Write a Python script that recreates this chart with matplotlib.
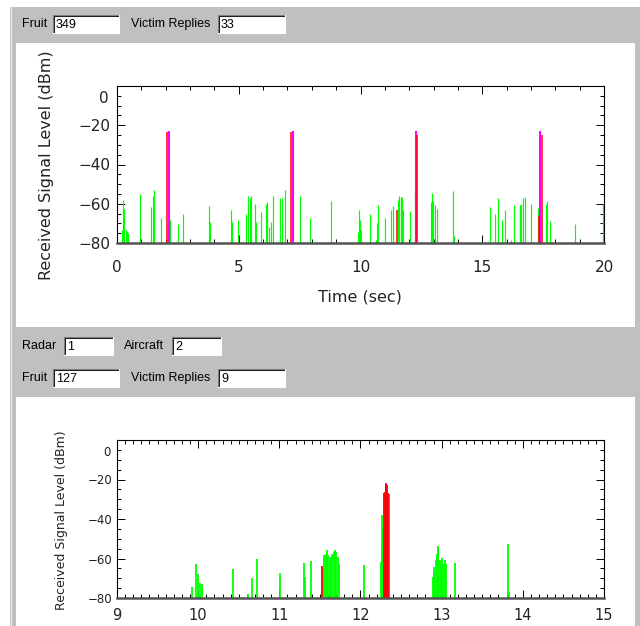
import matplotlib
matplotlib.use("Agg")
import matplotlib.pyplot as plt
from matplotlib.patches import Rectangle
from matplotlib.lines import Line2D
from matplotlib.ticker import MultipleLocator, FuncFormatter

W, H = 640, 626
GREEN, MAGENTA, RED = "#00ff00", "#ff00ff", "#ff0000"

# --- full 20 s scan: green fruit, red/magenta victim replies ---
scan_green_t = [0.20, 0.25, 0.30, 0.35, 0.40, 0.45, 0.93, 0.95, 1.41, 1.46, 1.51,
                1.79, 2.18, 2.49, 2.73, 2.98, 3.78, 3.83, 4.69, 4.74, 4.95, 5.31,
                5.39, 5.46, 5.51, 5.66, 5.71, 5.91, 6.11, 6.16, 6.24, 6.33, 6.39,
                6.71, 6.78, 6.88, 7.53, 7.93, 8.79, 9.91, 9.94, 9.99, 10.04, 10.39,
                10.62, 10.68, 10.73, 11.01, 11.26, 11.35, 11.55, 11.60, 11.65,
                11.70, 11.75, 12.02, 12.23, 12.89, 12.94, 12.99, 13.04, 13.14,
                13.79, 13.84, 15.30, 15.51, 15.66, 15.82, 15.92, 16.20, 16.32,
                16.53, 16.58, 16.69, 16.74, 17.00, 17.29, 17.61, 17.66, 17.77,
                18.79, 19.95]
scan_green_v = [-73.2, -58.3, -62.5, -73.5, -74.0, -75.0, -79.0, -54.9, -61.7, -55.8, -52.9,
                -67.1, -68.1, -70.5, -65.4, -79.3, -61.4, -69.3, -63.0, -69.3, -68.5, -65.4,
                -56.3, -57.0, -55.8, -60.0, -69.3, -64.2, -60.3, -59.3, -71.9, -69.3, -55.8,
                -57.0, -57.0, -53.2, -56.3, -67.1, -58.6, -74.4, -63.0, -68.1, -73.6, -65.4,
                -78.3, -69.8, -60.8, -67.1, -63.0, -61.4, -58.3, -56.3, -56.6,
                -56.6, -63.0, -63.7, -53.6, -59.3, -54.4, -58.6, -60.8, -62.5,
                -53.6, -76.6, -61.7, -65.4, -57.3, -68.5, -63.0, -78.3, -60.8,
                -60.8, -60.3, -57.0, -56.6, -60.0, -62.0, -60.3, -58.6, -68.8,
                -70.5, -60.3]
scan_red_t = [2.07, 7.16, 11.51, 12.33, 17.34, 17.44]
scan_red_v = [-23.5, -23.5, -63.0, -25.0, -66.0, -25.0]
scan_mag_t = [2.12, 7.21, 12.27, 17.37]
scan_mag_v = [-23.0, -23.0, -23.0, -23.0]

# --- zoomed 9-15 s window ---
zoom_green_t = [9.93, 9.97, 10.00, 10.02, 10.05, 10.43, 10.62, 10.66, 10.72, 11.01,
                11.30, 11.32, 11.39,
                11.54, 11.55, 11.56, 11.58, 11.59, 11.60, 11.62, 11.63, 11.64, 11.65,
                11.67, 11.68, 11.69, 11.70, 11.72, 11.73,
                12.04, 12.25, 12.26, 12.27, 12.28,
                12.89, 12.90, 12.91, 12.93, 12.94, 12.95, 12.96, 12.98, 12.99, 13.00,
                13.01, 13.03, 13.04, 13.05,
                13.16, 13.82, 13.83]
zoom_green_v = [-74.4, -62.9, -68.0, -72.2, -73.1, -65.5, -78.1, -69.9, -60.0, -67.3,
                -62.2, -69.3, -61.1,
                -65.8, -58.2, -59.0, -57.5, -55.7, -58.0, -59.0, -65.8, -59.0, -57.5,
                -56.5, -56.0, -55.7, -56.5, -59.0, -62.8,
                -63.5, -61.6, -53.7, -38.0, -45.0,
                -69.4, -67.5, -64.3, -60.6, -57.6, -53.7, -54.4, -60.6, -62.2, -59.7,
                -61.3, -63.0, -60.6, -62.8,
                -62.4, -52.9, -77.0]
zoom_mag_t = [12.315, 12.345]
zoom_mag_v = [-22.0, -27.5]
zoom_red_t = [11.525, 12.29, 12.30, 12.31, 12.32, 12.33, 12.34]
zoom_red_v = [-64.0, -26.7, -26.5, -23.3, -22.4, -22.8, -27.0]

fig = plt.figure(figsize=(W / 100, H / 100), dpi=100, facecolor="white")


def fx(x):
    return x / W


def fy(y):
    return 1 - y / H


def rect(x0, y0, x1, y1, color):
    fig.patches.append(Rectangle((fx(x0), fy(y1)), fx(x1) - fx(x0), fy(y0) - fy(y1),
                                 transform=fig.transFigure, color=color, lw=0, zorder=-2))


def line(x0, y0, x1, y1, color):
    fig.lines.append(Line2D([fx(x0), fx(x1)], [fy(y0), fy(y1)], transform=fig.transFigure,
                            color=color, lw=0.75, zorder=-1))


def label(x, y, s):
    fig.text(fx(x), fy(y), s, family="Liberation Sans", fontsize=9, va="center", ha="left")


def entry(x0, y0, x1, y1, s):
    rect(x0, y0, x1, y1, "white")
    line(x0, y0, x1, y0, "#808080")
    line(x0, y0, x0, y1, "#808080")
    line(x0 + 1, y0 + 1, x1 - 1, y0 + 1, "#202020")
    line(x0 + 1, y0 + 1, x0 + 1, y1 - 1, "#202020")
    line(x0, y1, x1, y1, "#ffffff")
    line(x1, y0, x1, y1, "#ffffff")
    fig.text(fx(x0 + 3), fy((y0 + y1) / 2 + 1), s, family="Liberation Sans", fontsize=9,
             va="center", ha="left")


# window chrome
rect(10, 7, 640, 626, "#c0c0c0")
line(10.5, 7, 10.5, 626, "#f0f0f0")
rect(16, 43, 635, 327, "white")
rect(16, 397, 635, 626, "white")

label(22, 24, "Fruit")
entry(53, 15, 119, 33, "349")
label(131, 24, "Victim Replies")
entry(218, 15, 285, 33, "33")

label(22, 346, "Radar")
entry(64, 337, 113, 355, "1")
label(124, 346, "Aircraft")
entry(172, 337, 221, 355, "2")

label(22, 378, "Fruit")
entry(53, 369, 119, 387, "127")
label(131, 378, "Victim Replies")
entry(218, 369, 285, 387, "9")


def no_zero(v, pos):
    return "" if abs(v) < 1e-9 else f"{v:.0f}".replace("-", "\u2212")


def style(ax, xmaj, xmin, xsize, ysize, xpad, ypad):
    ax.set_zorder(5)
    ax.set_ylim(-80, 0)
    ax.xaxis.set_major_locator(MultipleLocator(xmaj))
    ax.xaxis.set_minor_locator(MultipleLocator(xmin))
    ax.yaxis.set_major_locator(MultipleLocator(20))
    ax.yaxis.set_minor_locator(MultipleLocator(5))
    ax.yaxis.set_major_formatter(FuncFormatter(no_zero))
    ax.tick_params(which="both", direction="in", top=True, right=True, width=0.7)
    ax.tick_params(which="major", length=6)
    ax.tick_params(which="minor", length=3)
    ax.tick_params(axis="x", labelsize=xsize, pad=xpad, labelcolor="#222222")
    ax.tick_params(axis="y", labelsize=ysize, pad=ypad, labelcolor="#222222")
    for s in ax.spines.values():
        s.set_linewidth(0.8)
    ax.axhline(-80, color="#555555", lw=1.8, clip_on=False, zorder=3)
    # the 0 dBm label sits a little below its tick
    ax.annotate("0", xy=(0, 0), xycoords=("axes fraction", "data"),
                xytext=(-ypad - 1, -9), textcoords="offset points",
                ha="right", va="center", fontsize=ysize, color="#222222")


# full scan
ax1 = fig.add_axes([fx(117), fy(243), fx(604) - fx(117), fy(86) - fy(243)])
ax1.set_xlim(0, 20)
ax1.vlines(scan_green_t, -80, scan_green_v, colors=GREEN, lw=0.85)
ax1.vlines(scan_mag_t, -80, scan_mag_v, colors=MAGENTA, lw=1.5)
ax1.vlines(scan_red_t, -80, scan_red_v, colors=RED, lw=1.1)
style(ax1, 5, 1, 11, 11, 12, 5)
fig.text(fx(47), fy(165), "Received Signal Level (dBm)", rotation=90, fontsize=11.5,
         ha="center", va="center", color="#222222")
fig.text(fx(360), fy(297), "Time (sec)", fontsize=11.5, ha="center", va="center",
         color="#222222")

# zoomed window
ax2 = fig.add_axes([fx(117), fy(598), fx(604) - fx(117), fy(440) - fy(598)])
ax2.set_xlim(9, 15)
ax2.vlines(zoom_green_t, -80, zoom_green_v, colors=GREEN, lw=1.3)
ax2.vlines(zoom_mag_t, -80, zoom_mag_v, colors=MAGENTA, lw=1.3)
ax2.vlines(zoom_red_t, -80, zoom_red_v, colors=RED, lw=1.3)
style(ax2, 1, 0.1, 10.5, 8.5, 7, 3.5)
fig.text(fx(62), fy(520), "Received Signal Level (dBm)", rotation=90, fontsize=9,
         ha="center", va="center", color="#222222")

fig.savefig("out.png", dpi=100, facecolor="white")
